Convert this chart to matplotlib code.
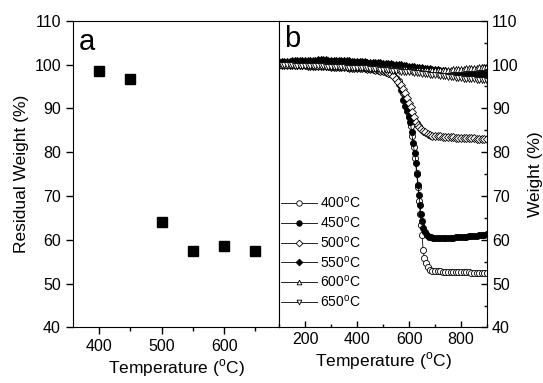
import matplotlib
matplotlib.use("Agg")
import matplotlib.pyplot as plt
from matplotlib.ticker import MultipleLocator

plt.rcParams["font.family"] = ["Liberation Sans", "DejaVu Sans"]
plt.rcParams["mathtext.fontset"] = "custom"
plt.rcParams["mathtext.rm"] = "Liberation Sans"

# ----------------------------
# Panel a: residual weight vs. treatment temperature
# ----------------------------
treat_temp = [400, 450, 500, 550, 600, 650]
residual = [98.6, 96.7, 64.0, 57.4, 58.7, 57.4]

# ----------------------------
# Panel b: TGA curves
# ----------------------------
t_flat = [100, 110, 120, 130, 140, 150, 160, 170, 180, 190,
          200, 210, 220, 230, 240, 250, 260, 270, 280, 290,
          300, 310, 320, 330, 340, 350, 360, 370, 380, 390,
          400, 410, 420, 430, 440, 450, 460, 470, 480, 490,
          500, 510, 520, 530, 540, 550, 560, 570, 580, 590,
          600, 610, 620, 630, 640, 650, 660, 670, 680, 690,
          700, 710, 720, 730, 740, 750, 760, 770, 780, 790,
          800, 810, 820, 830, 840, 850, 860, 870, 880, 890,
          900]

w_550 = [100.5, 100.5, 100.6, 100.6, 100.6, 100.7, 100.7, 100.7, 100.7, 100.8,
         100.8, 100.8, 100.9, 100.9, 100.9, 101.0, 101.0, 101.0, 101.0, 100.9,
         100.9, 100.9, 100.8, 100.8, 100.8, 100.7, 100.7, 100.7, 100.6, 100.6,
         100.6, 100.5, 100.5, 100.5, 100.4, 100.4, 100.4, 100.3, 100.3, 100.3,
         100.2, 100.2, 100.1, 100.1, 100.0, 99.9, 99.9, 99.8, 99.7, 99.6,
         99.5, 99.4, 99.4, 99.3, 99.2, 99.1, 99.0, 98.9, 98.9, 98.8,
         98.7, 98.7, 98.6, 98.5, 98.5, 98.4, 98.4, 98.3, 98.3, 98.3,
         98.2, 98.2, 98.2, 98.1, 98.1, 98.0, 98.0, 98.0, 97.9, 97.9,
         97.8]

w_600 = [99.9, 99.9, 99.9, 99.9, 99.9, 99.9, 99.8, 99.8, 99.8, 99.8,
         99.8, 99.8, 99.8, 99.8, 99.7, 99.7, 99.7, 99.7, 99.7, 99.7,
         99.6, 99.6, 99.6, 99.6, 99.6, 99.5, 99.5, 99.5, 99.5, 99.5,
         99.4, 99.4, 99.4, 99.4, 99.3, 99.3, 99.3, 99.3, 99.2, 99.2,
         99.2, 99.1, 99.1, 99.1, 99.0, 99.0, 99.0, 98.9, 98.9, 98.9,
         98.8, 98.8, 98.8, 98.8, 98.7, 98.7, 98.7, 98.7, 98.7, 98.7,
         98.7, 98.7, 98.7, 98.8, 98.8, 98.8, 98.8, 98.9, 98.9, 98.9,
         99.0, 99.0, 99.1, 99.1, 99.2, 99.2, 99.3, 99.4, 99.4, 99.5,
         99.6]

w_650 = [99.8, 99.8, 99.8, 99.8, 99.8, 99.8, 99.7, 99.7, 99.7, 99.7,
         99.7, 99.7, 99.7, 99.6, 99.6, 99.6, 99.6, 99.6, 99.5, 99.5,
         99.5, 99.5, 99.4, 99.4, 99.4, 99.4, 99.3, 99.3, 99.3, 99.2,
         99.2, 99.2, 99.1, 99.1, 99.1, 99.0, 99.0, 98.9, 98.9, 98.8,
         98.8, 98.7, 98.7, 98.6, 98.6, 98.5, 98.5, 98.4, 98.4, 98.3,
         98.2, 98.2, 98.1, 98.0, 98.0, 97.9, 97.8, 97.8, 97.7, 97.6,
         97.6, 97.5, 97.4, 97.4, 97.3, 97.2, 97.2, 97.1, 97.0, 96.9,
         96.9, 96.8, 96.8, 96.7, 96.6, 96.6, 96.5, 96.5, 96.4, 96.4,
         96.3]

# common part before the weight loss (400, 450, 500 samples)
t_pre = [100, 110, 120, 130, 140, 150, 160, 170, 180, 190,
         200, 210, 220, 230, 240, 250, 260, 270, 280, 290,
         300, 310, 320, 330, 340, 350, 360, 370, 380, 390,
         400, 410, 420, 430, 440, 450, 460, 470, 480, 490,
         500, 510, 520, 530]
w_pre = [99.9, 99.9, 99.9, 99.9, 99.9, 99.8, 99.8, 99.8, 99.8, 99.8,
         99.8, 99.7, 99.7, 99.7, 99.7, 99.7, 99.6, 99.6, 99.6, 99.6,
         99.5, 99.5, 99.5, 99.5, 99.4, 99.4, 99.4, 99.3, 99.3, 99.3,
         99.2, 99.2, 99.1, 99.1, 99.0, 99.0, 98.9, 98.8, 98.7, 98.6,
         98.5, 98.3, 98.1, 97.9]

t_post = [700, 710, 720, 730, 740, 750, 760, 770, 780, 790,
          800, 810, 820, 830, 840, 850, 860, 870, 880, 890, 900]

t_drop_400 = [540, 550, 560, 570, 578, 586, 594, 601, 607, 612, 617, 623,
              629, 634, 639, 643, 647, 650, 654, 659, 665, 672, 680, 690]
w_drop_400 = [97.6, 97.0, 96.2, 95.0, 93.6, 92.0, 90.2, 88.2, 86.0, 83.6, 81.2, 78.7,
              75.3, 72.0, 68.8, 66.0, 63.3, 61.2, 57.6, 55.8, 54.6, 53.7, 53.1, 52.9]
w_post_400 = [52.8, 52.8, 52.8, 52.7, 52.7, 52.7, 52.7, 52.7, 52.6, 52.6,
              52.6, 52.6, 52.6, 52.6, 52.5, 52.5, 52.5, 52.5, 52.5, 52.5, 52.5]

t_drop_450 = [540, 550, 560, 568, 577, 585, 592, 598, 604, 610, 615, 621, 627,
              631, 635, 639, 642, 646, 650, 655, 661, 668, 676, 685, 693]
w_drop_450 = [97.5, 96.8, 95.6, 94.2, 92.0, 90.6, 89.4, 88.1, 86.9, 84.6, 82.1, 79.9, 77.6,
              75.0, 72.6, 70.2, 67.9, 66.0, 64.3, 62.7, 61.8, 61.0, 60.7, 60.6, 60.5]
w_post_450 = [60.5, 60.5, 60.5, 60.5, 60.5, 60.5, 60.5, 60.5, 60.6, 60.6,
              60.6, 60.7, 60.7, 60.8, 60.8, 60.9, 60.9, 61.0, 61.1, 61.2, 61.3]

t_drop_500 = [540, 548, 558, 569, 577, 585, 592, 600, 606, 612, 619, 627,
              633, 639, 646, 654, 662, 671, 680, 690]
w_drop_500 = [97.4, 96.8, 96.0, 95.3, 94.4, 93.5, 92.4, 91.2, 90.2, 89.2, 88.0, 86.9,
              86.2, 85.7, 85.2, 84.9, 84.5, 84.2, 84.0, 83.8]
w_post_500 = [83.7, 83.6, 83.6, 83.5, 83.5, 83.4, 83.4, 83.4, 83.3, 83.3,
              83.3, 83.3, 83.2, 83.2, 83.2, 83.2, 83.1, 83.1, 83.1, 83.1, 83.0]

labels = ["400$^{\\rm o}$C", "450$^{\\rm o}$C", "500$^{\\rm o}$C",
          "550$^{\\rm o}$C", "600$^{\\rm o}$C", "650$^{\\rm o}$C"]

series = [
    (t_pre + t_drop_400 + t_post, w_pre + w_drop_400 + w_post_400, "o", "white"),
    (t_pre + t_drop_450 + t_post, w_pre + w_drop_450 + w_post_450, "o", "black"),
    (t_pre + t_drop_500 + t_post, w_pre + w_drop_500 + w_post_500, "D", "white"),
    (t_flat, w_550, "D", "black"),
    (t_flat, w_600, "^", "white"),
    (t_flat, w_650, "v", "white"),
]

# --- Plot ---
fig = plt.figure(figsize=(5.43, 3.83), dpi=100)
ax1 = fig.add_axes([0.134, 0.145, 0.380, 0.801])
ax2 = fig.add_axes([0.514, 0.145, 0.383, 0.801])

# panel a
ax1.plot(treat_temp, residual, "s", color="black", markersize=6.5, linestyle="none")
ax1.set_xlim(358, 688)
ax1.set_ylim(40, 110)
ax1.xaxis.set_major_locator(MultipleLocator(100))
ax1.xaxis.set_minor_locator(MultipleLocator(50))
ax1.yaxis.set_major_locator(MultipleLocator(10))
ax1.tick_params(axis="both", which="major", direction="out", length=5, width=1,
                labelsize=11.5, top=False, right=False)
ax1.tick_params(axis="x", which="minor", direction="out", length=3, width=1)
ax1.set_xlabel("Temperature ($^{\\rm o}$C)", fontsize=12.5, labelpad=2)
ax1.set_ylabel("Residual Weight (%)", fontsize=12.5, labelpad=4)
ax1.text(0.03, 0.975, "a", transform=ax1.transAxes, fontsize=21, va="top", ha="left")

# panel b
for (tx, wy, mk, fc), lab in zip(series, labels):
    ms = 4.4 if mk == "o" else 3.8
    ax2.plot(tx, wy, color="black", linewidth=0.6, marker=mk, markersize=ms,
             markerfacecolor=fc, markeredgecolor="black", markeredgewidth=0.6,
             label=lab)

ax2.set_xlim(100, 900)
ax2.set_ylim(40, 110)
ax2.xaxis.set_major_locator(MultipleLocator(200))
ax2.xaxis.set_minor_locator(MultipleLocator(100))
ax2.yaxis.set_major_locator(MultipleLocator(10))
ax2.yaxis.set_minor_locator(MultipleLocator(5))
ax2.yaxis.tick_right()
ax2.yaxis.set_label_position("right")
ax2.tick_params(axis="both", which="major", direction="in", length=4, width=1,
                labelsize=11.5, left=False, top=False)
ax2.tick_params(axis="both", which="minor", direction="in", length=2.5, width=1,
                left=False, top=False)
ax2.set_xlabel("Temperature ($^{\\rm o}$C)", fontsize=12.5, labelpad=2)
ax2.set_ylabel("Weight (%)", fontsize=12.5, labelpad=7)
ax2.text(0.025, 0.985, "b", transform=ax2.transAxes, fontsize=21, va="top", ha="left")

ax2.legend(loc="lower left", frameon=False, fontsize=10, handlelength=2.6,
           handletextpad=0.25, labelspacing=0.27, borderaxespad=0.1,
           bbox_to_anchor=(-0.025, 0.035), markerscale=0.9)

fig.savefig("out.png", dpi=100)
